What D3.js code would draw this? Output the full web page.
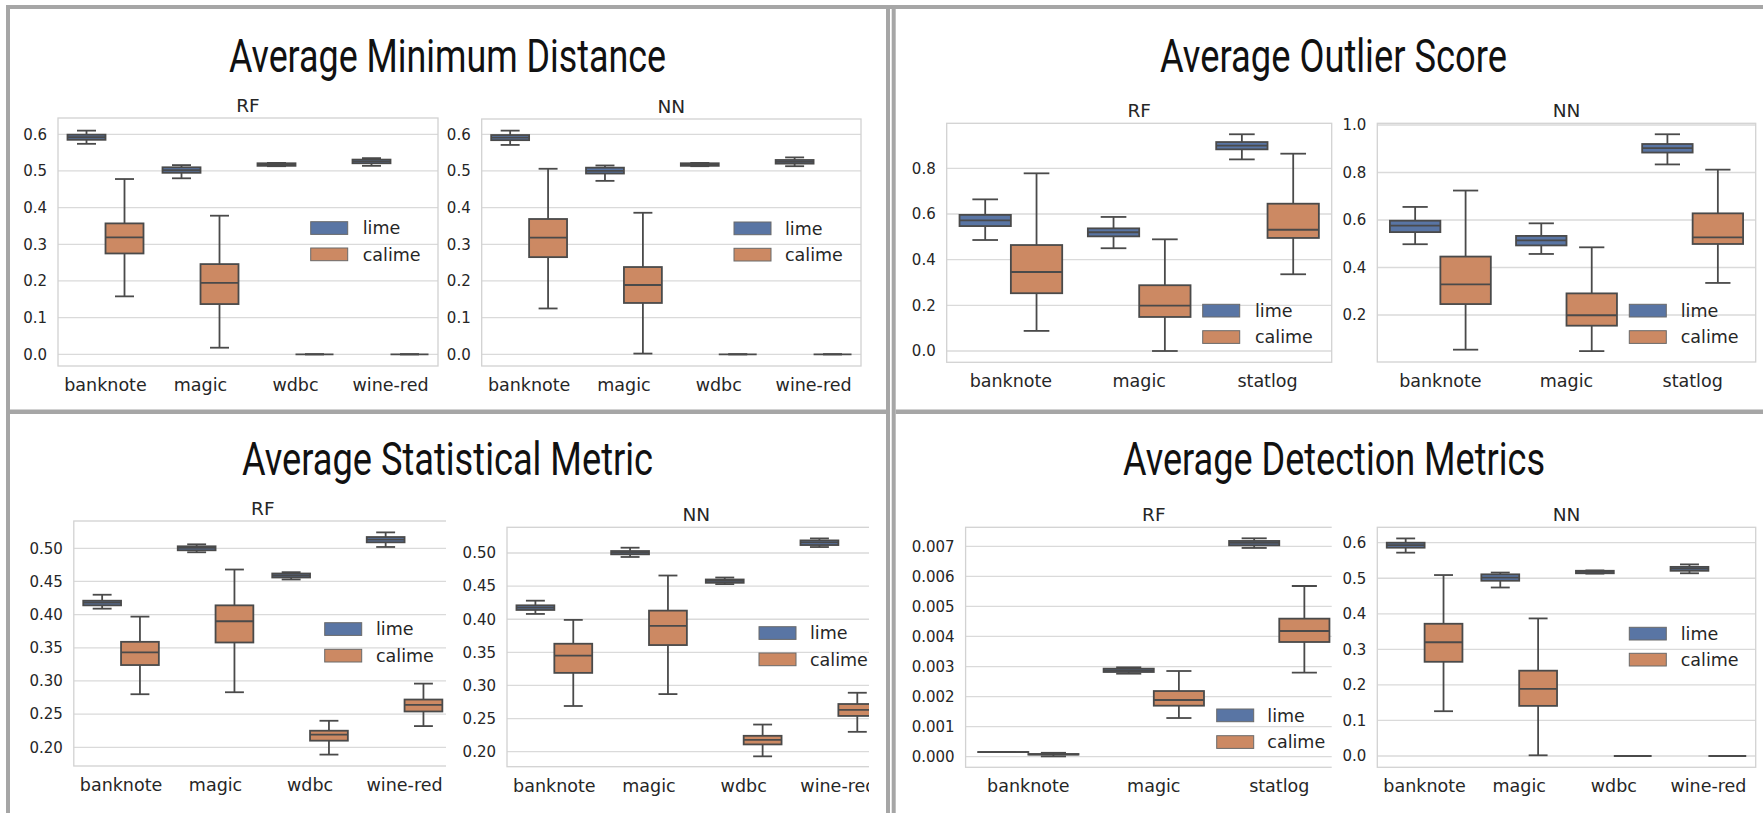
<!DOCTYPE html>
<html><head><meta charset="utf-8">
<script src="https://cdn.jsdelivr.net/npm/d3@7"></script>
<style>html,body{margin:0;padding:0;background:#fff;overflow:hidden;} svg{display:block;}</style>
</head><body>
<script>
// ---------------- data ----------------
const cats4 = ["banknote", "magic", "wdbc", "wine-red"];
const cats3 = ["banknote", "magic", "statlog"];
const seriesNames = ["lime", "calime"];
const seriesColors = ["#5975a4", "#cc8963"];

// each row: [whisker low, q1, median, q3, whisker high]
const amdRFLime   = [[0.574,0.585,0.592,0.599,0.610],[0.480,0.495,0.502,0.510,0.516],[0.513,0.514,0.517,0.521,0.522],[0.514,0.521,0.526,0.531,0.535]];
const amdRFCalime = [[0.158,0.275,0.319,0.357,0.478],[0.018,0.137,0.195,0.246,0.378],[0,0,0,0,0],[0,0,0,0,0]];
const amdNNLime   = [[0.571,0.584,0.591,0.598,0.610],[0.473,0.493,0.500,0.509,0.515],[0.513,0.514,0.517,0.521,0.522],[0.513,0.520,0.525,0.530,0.537]];
const amdNNCalime = [[0.125,0.265,0.318,0.369,0.506],[0.002,0.140,0.189,0.238,0.386],[0,0,0,0,0],[0,0,0,0,0]];

const aosRFLime   = [[0.486,0.547,0.572,0.596,0.664],[0.450,0.502,0.520,0.537,0.587],[0.839,0.883,0.899,0.915,0.949]];
const aosRFCalime = [[0.088,0.253,0.346,0.464,0.778],[0.000,0.149,0.199,0.288,0.489],[0.336,0.495,0.531,0.645,0.864]];
const aosNNLime   = [[0.498,0.549,0.576,0.597,0.655],[0.457,0.493,0.514,0.533,0.586],[0.834,0.884,0.903,0.920,0.961]];
const aosNNCalime = [[0.054,0.246,0.329,0.446,0.724],[0.048,0.155,0.199,0.291,0.485],[0.335,0.499,0.527,0.628,0.812]];

const asmRFLime   = [[0.409,0.414,0.418,0.421,0.430],[0.494,0.497,0.5005,0.503,0.506],[0.453,0.456,0.459,0.462,0.464],[0.502,0.509,0.513,0.517,0.524]];
const asmRFCalime = [[0.280,0.324,0.343,0.359,0.397],[0.283,0.358,0.390,0.414,0.468],[0.189,0.210,0.219,0.225,0.240],[0.232,0.254,0.264,0.272,0.296]];
const asmNNLime   = [[0.408,0.414,0.4175,0.421,0.428],[0.494,0.498,0.5006,0.503,0.508],[0.453,0.455,0.458,0.460,0.463],[0.509,0.512,0.516,0.519,0.522]];
const asmNNCalime = [[0.269,0.319,0.345,0.363,0.399],[0.287,0.361,0.390,0.413,0.466],[0.193,0.211,0.218,0.224,0.241],[0.230,0.254,0.263,0.272,0.289]];

const admRFLime   = [[0.000150,0.000153,0.000155,0.000157,0.000160],[0.002762,0.002818,0.002873,0.002929,0.002973],[0.006945,0.007033,0.007111,0.007178,0.007266]];
const admRFCalime = [[0.000010,0.000070,0.000080,0.000090,0.000130],[0.001287,0.001697,0.001886,0.002185,0.002851],[0.002796,0.003816,0.004182,0.004593,0.005680]];
const admNNLime   = [[0.572,0.586,0.593,0.600,0.612],[0.474,0.493,0.502,0.511,0.516],[0.513,0.514,0.518,0.521,0.522],[0.514,0.521,0.527,0.532,0.539]];
const admNNCalime = [[0.126,0.265,0.320,0.372,0.509],[0.002,0.141,0.189,0.240,0.387],[0,0,0,0,0],[0,0,0,0,0]];

const ticksA = [0, 0.1, 0.2, 0.3, 0.4, 0.5, 0.6];
const tickLabelsA = ["0.0", "0.1", "0.2", "0.3", "0.4", "0.5", "0.6"];
const ticksB = [0, 0.2, 0.4, 0.6, 0.8];
const tickLabelsB = ["0.0", "0.2", "0.4", "0.6", "0.8"];
const ticksC = [0.2, 0.4, 0.6, 0.8, 1.0];
const tickLabelsC = ["0.2", "0.4", "0.6", "0.8", "1.0"];
const ticksD = [0.20, 0.25, 0.30, 0.35, 0.40, 0.45, 0.50];
const tickLabelsD = ["0.20", "0.25", "0.30", "0.35", "0.40", "0.45", "0.50"];
const ticksE = [0, 0.001, 0.002, 0.003, 0.004, 0.005, 0.006, 0.007];
const tickLabelsE = ["0.000", "0.001", "0.002", "0.003", "0.004", "0.005", "0.006", "0.007"];

const panelTitles = ["Average Minimum Distance", "Average Outlier Score", "Average Statistical Metric", "Average Detection Metrics"];
const modelNames = ["RF", "NN"];

// ---------------- layout ----------------
const W = 1763, H = 813;
const svg = d3.select("body").append("svg").attr("width", W).attr("height", H);
const defs = svg.append("defs");
const TXT = "#262626", LINE = "#4a4a4a", GRID = "#dadada";
const FONT = "'DejaVu Sans', sans-serif";

const titleLayout = [
  {x0: 229, x1: 666, y: 71.7},
  {x0: 1160, x1: 1507, y: 71.7},
  {x0: 242, x1: 653, y: 475},
  {x0: 1123, x1: 1545, y: 475}
];

const subplots = [
  {title: modelNames[0], cats: cats4, lime: amdRFLime, calime: amdRFCalime, ticks: ticksA, labels: tickLabelsA,
   x0: 58, x1: 438, y0: 118, y1: 366, vA: 0, pA: 354.3, vB: 0.6, pB: 134.3, legX: 310.7, legY: [221.7, 248], legTX: 362.7},
  {title: modelNames[1], cats: cats4, lime: amdNNLime, calime: amdNNCalime, ticks: ticksA, labels: tickLabelsA,
   x0: 481.7, x1: 861, y0: 119, y1: 366, vA: 0, pA: 354.3, vB: 0.6, pB: 134.3, legX: 734, legY: [222, 248.3], legTX: 785},
  {title: modelNames[0], cats: cats3, lime: aosRFLime, calime: aosRFCalime, ticks: ticksB, labels: tickLabelsB,
   x0: 946.7, x1: 1331.7, y0: 123.3, y1: 362.3, vA: 0, pA: 351, vB: 0.8, pB: 168.3, legX: 1202.7, legY: [304.3, 330.7], legTX: 1255},
  {title: modelNames[1], cats: cats3, lime: aosNNLime, calime: aosNNCalime, ticks: ticksC, labels: tickLabelsC,
   x0: 1377.3, x1: 1755.7, y0: 123.3, y1: 362, vA: 0.2, pA: 315, vB: 1.0, pB: 125, legX: 1629.3, legY: [304.3, 330.7], legTX: 1680.7},
  {title: modelNames[0], cats: cats4, lime: asmRFLime, calime: asmRFCalime, ticks: ticksD, labels: tickLabelsD,
   x0: 73.8, x1: 451.8, y0: 521, y1: 766, vA: 0.2, pA: 747.3, vB: 0.5, pB: 548.3, legX: 324.7, legY: [622.7, 649.3], legTX: 376, clipX: 446},
  {title: modelNames[1], cats: cats4, lime: asmNNLime, calime: asmNNCalime, ticks: ticksD, labels: tickLabelsD,
   x0: 507, x1: 885.7, y0: 527.3, y1: 766.7, vA: 0.2, pA: 751.7, vB: 0.5, pB: 553, legX: 759, legY: [626.7, 653], legTX: 810, clipX: 869},
  {title: modelNames[0], cats: cats3, lime: admRFLime, calime: admRFCalime, ticks: ticksE, labels: tickLabelsE,
   x0: 965.6, x1: 1342, y0: 527.3, y1: 767.3, vA: 0, pA: 756.7, vB: 0.007, pB: 546.3, legX: 1216.7, legY: [709, 735.7], legTX: 1267.3, clipX: 1331.7},
  {title: modelNames[1], cats: cats4, lime: admNNLime, calime: admNNCalime, ticks: ticksA, labels: tickLabelsA,
   x0: 1377.3, x1: 1755.7, y0: 527.3, y1: 767.3, vA: 0, pA: 756, vB: 0.6, pB: 542.7, legX: 1629.3, legY: [627.3, 653.3], legTX: 1680.7}
];

// ---------------- borders ----------------
const BORDER = "#a6a6a6";
const borders = svg.append("g").attr("stroke", BORDER).attr("stroke-width", 4);
borders.append("line").attr("x1", 8).attr("x2", 8).attr("y1", 5).attr("y2", H);
borders.append("line").attr("x1", 6).attr("x2", W).attr("y1", 7).attr("y2", 7);
borders.append("line").attr("x1", 888).attr("x2", 888).attr("y1", 5).attr("y2", H);
borders.append("line").attr("x1", 893.7).attr("x2", 893.7).attr("y1", 5).attr("y2", H);
borders.append("line").attr("x1", 6).attr("x2", 886).attr("y1", 411.7).attr("y2", 411.7).attr("stroke-width", 4.6);
borders.append("line").attr("x1", 895.7).attr("x2", W).attr("y1", 411.7).attr("y2", 411.7).attr("stroke-width", 4.6);

// ---------------- panel titles ----------------
panelTitles.forEach((t, i) => {
  const L = titleLayout[i];
  svg.append("text")
    .attr("x", L.x0).attr("y", L.y)
    .attr("textLength", L.x1 - L.x0).attr("lengthAdjust", "spacingAndGlyphs")
    .attr("font-family", "Roboto, 'Open Sans', sans-serif").attr("font-weight", 400)
    .attr("font-size", 47).attr("fill", "#111").text(t);
});

// ---------------- subplots ----------------
subplots.forEach((c, idx) => {
  const g = svg.append("g");
  if (c.clipX !== undefined) {
    const id = "clip" + idx;
    defs.append("clipPath").attr("id", id).append("rect")
      .attr("x", c.x0 - 120).attr("y", c.y0 - 60).attr("width", c.clipX - (c.x0 - 120)).attr("height", c.y1 - c.y0 + 120);
    g.attr("clip-path", `url(#${id})`);
  }
  const y = d3.scaleLinear().domain([c.vA, c.vB]).range([c.pA, c.pB]);
  const x = d3.scaleBand().domain(c.cats).range([c.x0, c.x1]).paddingInner(0.2).paddingOuter(0.1);
  const xs = d3.scaleBand().domain(seriesNames).range([0, x.bandwidth()]);
  const color = d3.scaleOrdinal().domain(seriesNames).range(seriesColors);

  // grid
  g.append("g").selectAll("line").data(c.ticks).join("line")
    .attr("x1", c.x0).attr("x2", c.x1)
    .attr("y1", d => y(d)).attr("y2", d => y(d))
    .attr("stroke", GRID).attr("stroke-width", 1.3);

  // frame
  g.append("rect").attr("x", c.x0).attr("y", c.y0).attr("width", c.x1 - c.x0).attr("height", c.y1 - c.y0)
    .attr("fill", "none").attr("stroke", "#d2d2d2").attr("stroke-width", 1.3);

  // y axis labels
  const yAxis = d3.axisLeft(y).tickValues(c.ticks).tickFormat((d, i) => c.labels[i]).tickSize(0).tickPadding(11);
  const ya = g.append("g").attr("transform", `translate(${c.x0},0)`).call(yAxis);
  ya.select(".domain").remove();
  ya.selectAll("text").attr("font-family", FONT).attr("font-size", 15).attr("fill", TXT);

  // x axis labels
  const xAxis = d3.axisBottom(x).tickSize(0).tickPadding(12.6);
  const xa = g.append("g").attr("transform", `translate(0,${c.y1})`).call(xAxis);
  xa.select(".domain").remove();
  xa.selectAll("text").attr("font-family", FONT).attr("font-size", 17.5).attr("fill", TXT);

  // subplot title
  g.append("text").attr("x", (c.x0 + c.x1) / 2).attr("y", c.y0 - 6)
    .attr("text-anchor", "middle").attr("font-family", FONT).attr("font-size", 18.5).attr("fill", TXT)
    .text(c.title);

  // boxes
  const rows = [];
  c.cats.forEach((cat, i) => {
    rows.push({cat, s: "lime", v: c.lime[i]});
    rows.push({cat, s: "calime", v: c.calime[i]});
  });
  const bw = xs.bandwidth();
  const bg = g.append("g").selectAll("g").data(rows).join("g")
    .attr("transform", d => `translate(${x(d.cat) + xs(d.s) + bw / 2},0)`);
  const ls = sel => sel.attr("stroke", LINE).attr("stroke-width", 1.8).attr("fill", "none");
  bg.append("line").attr("x1", 0).attr("x2", 0).attr("y1", d => y(d.v[0])).attr("y2", d => y(d.v[1])).call(ls);
  bg.append("line").attr("x1", 0).attr("x2", 0).attr("y1", d => y(d.v[3])).attr("y2", d => y(d.v[4])).call(ls);
  bg.append("line").attr("x1", -bw / 4).attr("x2", bw / 4).attr("y1", d => y(d.v[0])).attr("y2", d => y(d.v[0])).call(ls);
  bg.append("line").attr("x1", -bw / 4).attr("x2", bw / 4).attr("y1", d => y(d.v[4])).attr("y2", d => y(d.v[4])).call(ls);
  bg.append("rect").attr("x", -bw / 2).attr("width", bw)
    .attr("y", d => y(d.v[3])).attr("height", d => Math.max(0, y(d.v[1]) - y(d.v[3])))
    .attr("fill", d => color(d.s)).attr("stroke", LINE).attr("stroke-width", 1.8);
  bg.append("line").attr("x1", -bw / 2).attr("x2", bw / 2).attr("y1", d => y(d.v[2])).attr("y2", d => y(d.v[2])).call(ls);

  // legend
  const lg = g.append("g");
  seriesNames.forEach((s, i) => {
    lg.append("rect").attr("x", c.legX).attr("y", c.legY[i]).attr("width", 37).attr("height", 12.7)
      .attr("fill", color(s)).attr("stroke", "#6a6a6a").attr("stroke-width", 1);
    lg.append("text").attr("x", c.legTX).attr("y", c.legY[i] + 6.35).attr("dy", "0.36em")
      .attr("font-family", FONT).attr("font-size", 17.5).attr("fill", TXT).text(s);
  });
});
</script>
</body></html>
